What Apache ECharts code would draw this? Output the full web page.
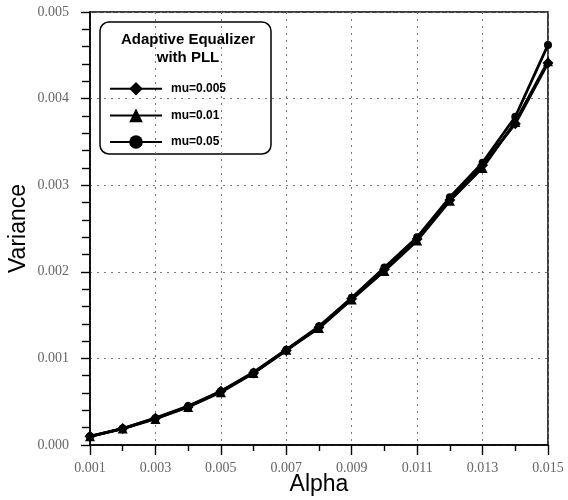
<!DOCTYPE html>
<html>
<head>
<meta charset="utf-8">
<script src="https://cdn.jsdelivr.net/npm/echarts@6/dist/echarts.min.js"></script>
<style>
html, body { margin: 0; padding: 0; background: #fff; }
#main { width: 568px; height: 500px; }
</style>
</head>
<body>
<div id="main"></div>
<script>
// data
var alpha = [0.001, 0.002, 0.003, 0.004, 0.005, 0.006, 0.007, 0.008, 0.009, 0.010, 0.011, 0.012, 0.013, 0.014, 0.015];
var mu005 = [0.00010, 0.00019, 0.00031, 0.00044, 0.00062, 0.00083, 0.00109, 0.00136, 0.00169, 0.00203, 0.00238, 0.00283, 0.00323, 0.00371, 0.00441];
var mu01 = [0.00010, 0.00019, 0.00030, 0.00044, 0.00061, 0.00083, 0.00110, 0.00135, 0.00168, 0.00201, 0.00236, 0.00282, 0.00320, 0.00373, 0.00443];
var mu05 = [0.00010, 0.00019, 0.00031, 0.00045, 0.00062, 0.00084, 0.00110, 0.00137, 0.00170, 0.00205, 0.00240, 0.00286, 0.00326, 0.00379, 0.00462];
var seriesNames = ["mu=0.005", "mu=0.01", "mu=0.05"];
var legendTitle = ["Adaptive Equalizer", "with PLL"];

function pairs(ys) {
    var out = [];
    for (var i = 0; i < alpha.length; i++) {
        out.push([alpha[i], ys[i]]);
    }
    return out;
}

var chart = echarts.init(document.getElementById("main"));

var tickFont = { fontFamily: "Liberation Serif", fontSize: 14, color: "#666" };

function makeSeries(name, ys, symbol, size) {
    return {
        name: name,
        type: "line",
        data: pairs(ys),
        symbol: symbol,
        symbolSize: size,
        lineStyle: { color: "#000", width: 2.8 },
        itemStyle: { color: "#000" }
    };
}

var option = {
    backgroundColor: "#fff",
    animation: false,
    grid: {
        left: 90,
        right: 20,
        top: 12,
        bottom: 55,
        containLabel: false,
        outerBoundsMode: "none",
        show: true,
        borderColor: "#000",
        borderWidth: 1.5
    },
    xAxis: {
        type: "value",
        min: 0.001,
        max: 0.015,
        interval: 0.002,
        name: "Alpha",
        nameLocation: "middle",
        nameGap: 28,
        nameMoveOverlap: false,
        nameTextStyle: { fontFamily: "Liberation Sans", fontSize: 23, color: "#000" },
        axisLine: { lineStyle: { color: "#000", width: 1.5 } },
        axisTick: { inside: false, length: 10, lineStyle: { color: "#000", width: 1.4 } },
        minorTick: { show: true, splitNumber: 2, length: 6, lineStyle: { color: "#000", width: 1.4 } },
        axisLabel: {
            fontFamily: tickFont.fontFamily, fontSize: tickFont.fontSize, color: tickFont.color,
            margin: 16,
            formatter: function(v) { return v.toFixed(3); }
        },
        splitLine: { show: true, lineStyle: { color: "#777", type: [2, 5], width: 1 } }
    },
    yAxis: {
        type: "value",
        min: 0,
        max: 0.005,
        interval: 0.001,
        name: "Variance",
        nameLocation: "middle",
        nameGap: 60,
        nameMoveOverlap: false,
        nameTextStyle: { fontFamily: "Liberation Sans", fontSize: 23, color: "#000" },
        axisLine: { show: true, lineStyle: { color: "#000", width: 1.5 } },
        axisTick: { show: true, inside: false, length: 9, lineStyle: { color: "#000", width: 1.4 } },
        minorTick: { show: true, splitNumber: 5, length: 8, lineStyle: { color: "#000", width: 1.4 } },
        axisLabel: {
            fontFamily: tickFont.fontFamily, fontSize: tickFont.fontSize, color: tickFont.color,
            margin: 21,
            formatter: function(v) { return v.toFixed(3); }
        },
        splitLine: { show: true, lineStyle: { color: "#777", type: [2, 5], width: 1 } }
    },
    legend: {
        orient: "vertical",
        left: 104,
        top: 77,
        itemGap: 13,
        itemWidth: 52,
        itemHeight: 17,
        data: seriesNames,
        textStyle: { fontFamily: "Liberation Sans", fontSize: 12, fontWeight: "bold", color: "#000", padding: [0, 0, 0, 4] }
    },
    graphic: [
        {
            type: "rect",
            x: 100,
            y: 22,
            shape: { width: 171, height: 132, r: 9 },
            style: { fill: "#fff", stroke: "#000", lineWidth: 1.5 },
            z: 0
        },
        {
            type: "text",
            x: 188,
            y: 31,
            style: {
                text: legendTitle.join("\n"),
                textAlign: "center",
                fontFamily: "Liberation Sans",
                fontSize: 15,
                fontWeight: "bold",
                lineHeight: 18,
                fill: "#000"
            },
            z: 1
        }
    ],
    series: [
        makeSeries(seriesNames[0], mu005, "diamond", 11),
        makeSeries(seriesNames[1], mu01, "triangle", 10),
        makeSeries(seriesNames[2], mu05, "circle", 8)
    ]
};

chart.setOption(option);
</script>
</body>
</html>
